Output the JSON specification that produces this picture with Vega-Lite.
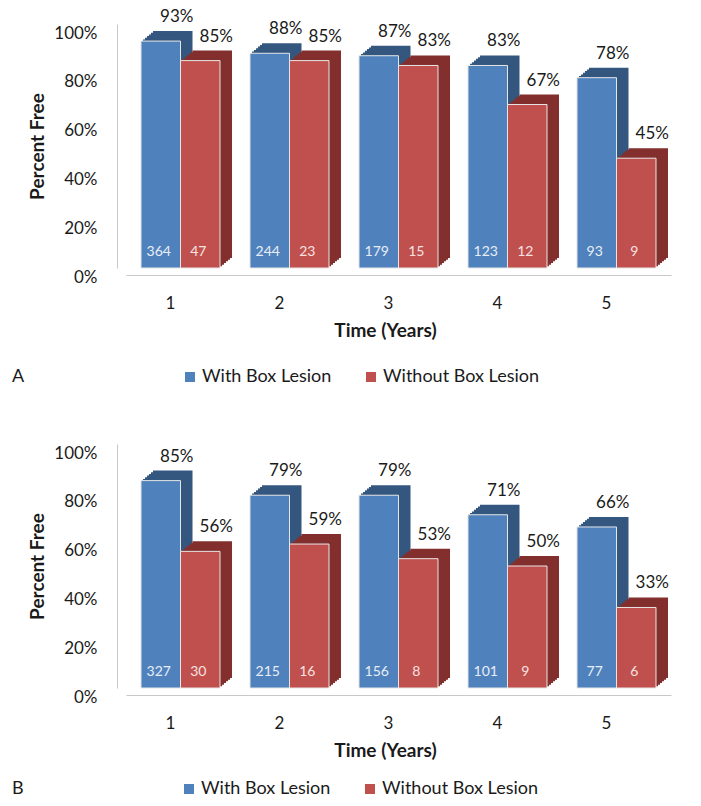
{
  "$schema": "https://vega.github.io/schema/vega-lite/v6.json",
  "padding": {"left": 12, "top": 8, "right": 5, "bottom": 5},
  "background": "white",
  "config": {
    "font": "Lato",
    "view": {"stroke": null},
    "axis": {"labelFont": "Lato", "titleFont": "Lato", "labelColor": "#1a1a1a", "titleColor": "#1a1a1a"},
    "legend": {"labelFont": "Lato", "titleFont": "Lato", "labelColor": "#1a1a1a", "titleColor": "#1a1a1a"},
    "text": {"font": "Lato"}
  },
  "data": {
    "values": [
      {"panel": "A", "year": 1, "group": "With Box Lesion", "pct": 0.93, "n": 364},
      {"panel": "A", "year": 2, "group": "With Box Lesion", "pct": 0.88, "n": 244},
      {"panel": "A", "year": 3, "group": "With Box Lesion", "pct": 0.87, "n": 179},
      {"panel": "A", "year": 4, "group": "With Box Lesion", "pct": 0.83, "n": 123},
      {"panel": "A", "year": 5, "group": "With Box Lesion", "pct": 0.78, "n": 93},
      {"panel": "A", "year": 1, "group": "Without Box Lesion", "pct": 0.85, "n": 47},
      {"panel": "A", "year": 2, "group": "Without Box Lesion", "pct": 0.85, "n": 23},
      {"panel": "A", "year": 3, "group": "Without Box Lesion", "pct": 0.83, "n": 15},
      {"panel": "A", "year": 4, "group": "Without Box Lesion", "pct": 0.67, "n": 12},
      {"panel": "A", "year": 5, "group": "Without Box Lesion", "pct": 0.45, "n": 9},
      {"panel": "B", "year": 1, "group": "With Box Lesion", "pct": 0.85, "n": 327},
      {"panel": "B", "year": 2, "group": "With Box Lesion", "pct": 0.79, "n": 215},
      {"panel": "B", "year": 3, "group": "With Box Lesion", "pct": 0.79, "n": 156},
      {"panel": "B", "year": 4, "group": "With Box Lesion", "pct": 0.71, "n": 101},
      {"panel": "B", "year": 5, "group": "With Box Lesion", "pct": 0.66, "n": 77},
      {"panel": "B", "year": 1, "group": "Without Box Lesion", "pct": 0.56, "n": 30},
      {"panel": "B", "year": 2, "group": "Without Box Lesion", "pct": 0.59, "n": 16},
      {"panel": "B", "year": 3, "group": "Without Box Lesion", "pct": 0.53, "n": 8},
      {"panel": "B", "year": 4, "group": "Without Box Lesion", "pct": 0.50, "n": 9},
      {"panel": "B", "year": 5, "group": "Without Box Lesion", "pct": 0.33, "n": 6}
    ]
  },
  "spacing": 58,
  "resolve": {"legend": {"color": "independent"}},
  "vconcat": [
    {
      "width": 545,
      "height": 244,
      "transform": [{"filter": "datum.panel === 'A'"}],
      "resolve": {"scale": {"xOffset": "independent"}},
      "encoding": {
        "x": {"field": "year", "type": "ordinal", "scale": {"paddingInner": 0.275, "paddingOuter": 0.1375},
          "axis": {"title": "Time (Years)", "titleX": 259, "labelAngle": 0, "labelFontSize": 17, "labelOffset": -10, "labelPadding": 20, "offset": 7, "ticks": false, "domainColor": "#c8c8c8", "titleFontSize": 19, "titleFontWeight": "bold", "titlePadding": 10}},
        "y": {"field": "pct", "type": "quantitative", "scale": {"domain": [0, 1]},
          "axis": {"title": "Percent Free", "values": [0, 0.2, 0.4, 0.6, 0.8, 1], "format": ".0%", "labelFontSize": 17, "titleFontSize": 19, "titleFontWeight": "bold", "grid": false, "ticks": false, "domainColor": "#c8c8c8", "offset": 9, "labelPadding": 20, "labelOffset": 9, "titlePadding": 6}}
      },
      "layer": [
        {"mark": {"type": "bar", "yOffset": -10, "y2Offset": -10}, "encoding": {"xOffset": {"field": "group", "type": "nominal", "scale": {"type": "band", "range": [12, 91.025], "paddingInner": 0, "paddingOuter": 0}}, "color": {"condition": {"test": "datum.group === 'With Box Lesion'", "value": "#34577f"}, "value": "#822f2d"}}},
        {"mark": {"type": "bar", "yOffset": -8.3, "y2Offset": -8.3}, "encoding": {"xOffset": {"field": "group", "type": "nominal", "scale": {"type": "band", "range": [10, 89.025], "paddingInner": 0, "paddingOuter": 0}}, "color": {"condition": {"test": "datum.group === 'With Box Lesion'", "value": "#34577f"}, "value": "#822f2d"}}},
        {"mark": {"type": "bar", "yOffset": -6.7, "y2Offset": -6.7}, "encoding": {"xOffset": {"field": "group", "type": "nominal", "scale": {"type": "band", "range": [8, 87.025], "paddingInner": 0, "paddingOuter": 0}}, "color": {"condition": {"test": "datum.group === 'With Box Lesion'", "value": "#34577f"}, "value": "#822f2d"}}},
        {"mark": {"type": "bar", "yOffset": -5, "y2Offset": -5}, "encoding": {"xOffset": {"field": "group", "type": "nominal", "scale": {"type": "band", "range": [6, 85.025], "paddingInner": 0, "paddingOuter": 0}}, "color": {"condition": {"test": "datum.group === 'With Box Lesion'", "value": "#34577f"}, "value": "#822f2d"}}},
        {"mark": {"type": "bar", "yOffset": -3.3, "y2Offset": -3.3}, "encoding": {"xOffset": {"field": "group", "type": "nominal", "scale": {"type": "band", "range": [4, 83.025], "paddingInner": 0, "paddingOuter": 0}}, "color": {"condition": {"test": "datum.group === 'With Box Lesion'", "value": "#34577f"}, "value": "#822f2d"}}},
        {"mark": {"type": "bar", "yOffset": -1.7, "y2Offset": -1.7}, "encoding": {"xOffset": {"field": "group", "type": "nominal", "scale": {"type": "band", "range": [2, 81.025], "paddingInner": 0, "paddingOuter": 0}}, "color": {"condition": {"test": "datum.group === 'With Box Lesion'", "value": "#34577f"}, "value": "#822f2d"}}},
        {"mark": {"type": "bar", "stroke": "#e6e6e6", "strokeWidth": 1},
          "encoding": {"xOffset": {"field": "group", "type": "nominal", "scale": {"type": "band", "range": [0, 79.025], "paddingInner": 0, "paddingOuter": 0}},
            "color": {"field": "group", "type": "nominal",
            "scale": {"domain": ["With Box Lesion", "Without Box Lesion"], "range": ["#4f81bd", "#c0504d"]},
            "legend": {"orient": "none", "legendX": -114, "legendY": 344, "direction": "horizontal", "title": "A", "titleOrient": "left", "titlePadding": 156, "titleFontWeight": "normal", "titleFontSize": 18, "labelFontSize": 18, "symbolType": "square", "symbolSize": 100, "symbolStrokeWidth": 0, "columnPadding": 30, "labelOffset": 3}}}},
        {"mark": {"type": "text", "dx": 16, "dy": -24, "baseline": "middle", "fontSize": 17, "color": "#1a1a1a"},
          "encoding": {"xOffset": {"field": "group", "type": "nominal", "scale": {"type": "band", "range": [0, 79.025], "paddingInner": 0, "paddingOuter": 0}},
            "text": {"field": "pct", "type": "quantitative", "format": ".0%"}}},
        {"mark": {"type": "text", "dx": -2, "dy": -16, "baseline": "middle", "fontSize": 14},
          "encoding": {"xOffset": {"field": "group", "type": "nominal", "scale": {"type": "band", "range": [0, 79.025], "paddingInner": 0, "paddingOuter": 0}},
            "y": {"datum": 0}, "text": {"field": "n", "type": "quantitative"},
            "color": {"condition": {"test": "datum.group === 'With Box Lesion'", "value": "#e8eef6"}, "value": "#f6e2e1"}}}
      ]
    },
    {
      "width": 545,
      "height": 244,
      "transform": [{"filter": "datum.panel === 'B'"}],
      "resolve": {"scale": {"xOffset": "independent"}},
      "encoding": {
        "x": {"field": "year", "type": "ordinal", "scale": {"paddingInner": 0.275, "paddingOuter": 0.1375},
          "axis": {"title": "Time (Years)", "titleX": 259, "labelAngle": 0, "labelFontSize": 17, "labelOffset": -10, "labelPadding": 20, "offset": 7, "ticks": false, "domainColor": "#c8c8c8", "titleFontSize": 19, "titleFontWeight": "bold", "titlePadding": 10}},
        "y": {"field": "pct", "type": "quantitative", "scale": {"domain": [0, 1]},
          "axis": {"title": "Percent Free", "values": [0, 0.2, 0.4, 0.6, 0.8, 1], "format": ".0%", "labelFontSize": 17, "titleFontSize": 19, "titleFontWeight": "bold", "grid": false, "ticks": false, "domainColor": "#c8c8c8", "offset": 9, "labelPadding": 20, "labelOffset": 9, "titlePadding": 6}}
      },
      "layer": [
        {"mark": {"type": "bar", "yOffset": -10, "y2Offset": -10}, "encoding": {"xOffset": {"field": "group", "type": "nominal", "scale": {"type": "band", "range": [12, 91.025], "paddingInner": 0, "paddingOuter": 0}}, "color": {"condition": {"test": "datum.group === 'With Box Lesion'", "value": "#34577f"}, "value": "#822f2d"}}},
        {"mark": {"type": "bar", "yOffset": -8.3, "y2Offset": -8.3}, "encoding": {"xOffset": {"field": "group", "type": "nominal", "scale": {"type": "band", "range": [10, 89.025], "paddingInner": 0, "paddingOuter": 0}}, "color": {"condition": {"test": "datum.group === 'With Box Lesion'", "value": "#34577f"}, "value": "#822f2d"}}},
        {"mark": {"type": "bar", "yOffset": -6.7, "y2Offset": -6.7}, "encoding": {"xOffset": {"field": "group", "type": "nominal", "scale": {"type": "band", "range": [8, 87.025], "paddingInner": 0, "paddingOuter": 0}}, "color": {"condition": {"test": "datum.group === 'With Box Lesion'", "value": "#34577f"}, "value": "#822f2d"}}},
        {"mark": {"type": "bar", "yOffset": -5, "y2Offset": -5}, "encoding": {"xOffset": {"field": "group", "type": "nominal", "scale": {"type": "band", "range": [6, 85.025], "paddingInner": 0, "paddingOuter": 0}}, "color": {"condition": {"test": "datum.group === 'With Box Lesion'", "value": "#34577f"}, "value": "#822f2d"}}},
        {"mark": {"type": "bar", "yOffset": -3.3, "y2Offset": -3.3}, "encoding": {"xOffset": {"field": "group", "type": "nominal", "scale": {"type": "band", "range": [4, 83.025], "paddingInner": 0, "paddingOuter": 0}}, "color": {"condition": {"test": "datum.group === 'With Box Lesion'", "value": "#34577f"}, "value": "#822f2d"}}},
        {"mark": {"type": "bar", "yOffset": -1.7, "y2Offset": -1.7}, "encoding": {"xOffset": {"field": "group", "type": "nominal", "scale": {"type": "band", "range": [2, 81.025], "paddingInner": 0, "paddingOuter": 0}}, "color": {"condition": {"test": "datum.group === 'With Box Lesion'", "value": "#34577f"}, "value": "#822f2d"}}},
        {"mark": {"type": "bar", "stroke": "#e6e6e6", "strokeWidth": 1},
          "encoding": {"xOffset": {"field": "group", "type": "nominal", "scale": {"type": "band", "range": [0, 79.025], "paddingInner": 0, "paddingOuter": 0}},
            "color": {"field": "group", "type": "nominal",
            "scale": {"domain": ["With Box Lesion", "Without Box Lesion"], "range": ["#4f81bd", "#c0504d"]},
            "legend": {"orient": "none", "legendX": -114, "legendY": 336, "direction": "horizontal", "title": "B", "titleOrient": "left", "titlePadding": 156, "titleFontWeight": "normal", "titleFontSize": 18, "labelFontSize": 18, "symbolType": "square", "symbolSize": 100, "symbolStrokeWidth": 0, "columnPadding": 30, "labelOffset": 3}}}},
        {"mark": {"type": "text", "dx": 16, "dy": -24, "baseline": "middle", "fontSize": 17, "color": "#1a1a1a"},
          "encoding": {"xOffset": {"field": "group", "type": "nominal", "scale": {"type": "band", "range": [0, 79.025], "paddingInner": 0, "paddingOuter": 0}},
            "text": {"field": "pct", "type": "quantitative", "format": ".0%"}}},
        {"mark": {"type": "text", "dx": -2, "dy": -16, "baseline": "middle", "fontSize": 14},
          "encoding": {"xOffset": {"field": "group", "type": "nominal", "scale": {"type": "band", "range": [0, 79.025], "paddingInner": 0, "paddingOuter": 0}},
            "y": {"datum": 0}, "text": {"field": "n", "type": "quantitative"},
            "color": {"condition": {"test": "datum.group === 'With Box Lesion'", "value": "#e8eef6"}, "value": "#f6e2e1"}}}
      ]
    }
  ]
}
